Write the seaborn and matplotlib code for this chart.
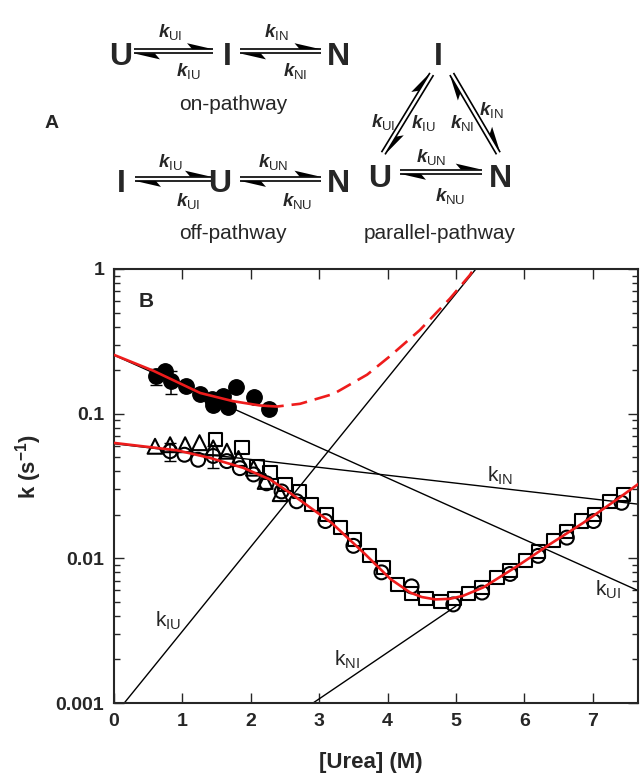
import numpy as np
import pandas as pd
import seaborn as sns
import matplotlib
matplotlib.use('Agg')
import matplotlib.pyplot as plt
from matplotlib.patches import Polygon
from matplotlib.ticker import LogLocator, NullFormatter

# ---- panel B data ----
# fast phase, filled circles
fast_x = [0.62, 0.75, 0.84, 1.05, 1.25, 1.43, 1.45, 1.59, 1.66, 1.78, 2.04, 2.26]
fast_y = [0.181, 0.196, 0.167, 0.156, 0.137, 0.126, 0.115, 0.133, 0.112, 0.154, 0.130, 0.107]
fast_err_x = [0.62, 0.84]
fast_err_y = [0.181, 0.167]
fast_err = [0.022, 0.030]

# slow phase, open triangles / circles / squares
tri_x = [0.60, 0.82, 1.04, 1.25, 1.45, 1.65, 1.82, 2.04, 2.21, 2.43]
tri_y = [0.0595, 0.061, 0.061, 0.063, 0.058, 0.055, 0.049, 0.042, 0.034, 0.028]

circ_x = [0.82, 1.03, 1.23, 1.45, 1.65, 1.84, 2.04, 2.23, 2.45, 2.67, 3.09, 3.50,
          3.91, 4.35, 4.96, 5.38, 5.79, 6.20, 6.62, 7.01, 7.42]
circ_y = [0.055, 0.052, 0.048, 0.051, 0.047, 0.042, 0.038, 0.033, 0.029, 0.0248, 0.0181, 0.0122,
          0.0080, 0.0064, 0.0048, 0.0058, 0.0078, 0.0104, 0.0139, 0.0181, 0.0242]
circ_err_x = [0.82, 1.45]
circ_err_y = [0.055, 0.051]
circ_err = [0.008, 0.009]

sq_x = [1.48, 1.87, 2.09, 2.28, 2.50, 2.71, 2.89, 3.11, 3.31, 3.52, 3.73, 3.94, 4.14, 4.35, 4.56,
        4.78, 4.98, 5.18, 5.38, 5.60, 5.79, 6.01, 6.20, 6.42, 6.62, 6.84, 7.03, 7.25, 7.45]
sq_y = [0.066, 0.058, 0.0433, 0.039, 0.0324, 0.0291, 0.0236, 0.0201, 0.0163, 0.0135, 0.0104, 0.0086,
        0.0066, 0.0057, 0.0053, 0.0050, 0.0053, 0.0057, 0.0063, 0.0074, 0.0082, 0.0096, 0.0112,
        0.0132, 0.0154, 0.0181, 0.0201, 0.0248, 0.0276]

# fitted curves (red)
fit_fast_x = [0.0, 0.575, 1.26, 1.74, 2.13, 2.25]
fit_fast_y = [0.255, 0.198, 0.139, 0.122, 0.114, 0.113]
ext_fast_x = [2.25, 2.38, 2.72, 3.21, 3.70, 4.04, 4.47, 4.91, 5.20, 5.26]
ext_fast_y = [0.113, 0.112, 0.117, 0.137, 0.186, 0.251, 0.378, 0.624, 0.905, 1.0]
fit_slow_x = [0.0, 0.92, 1.40, 1.89, 2.28, 2.57, 2.87, 3.18, 3.67, 4.04, 4.33, 4.50, 4.70,
              4.91, 5.10, 5.40, 5.89, 6.37, 6.86, 7.35, 7.69]
fit_slow_y = [0.0628, 0.0558, 0.0495, 0.0422, 0.0351, 0.0284, 0.0224, 0.0176, 0.0107, 0.0072,
              0.0058, 0.0054, 0.0052, 0.00525, 0.0055, 0.0063, 0.0088, 0.0125, 0.0176, 0.0255, 0.0333]

# microscopic rate constants (black straight lines)
rates = {
    'UI': ([0.0, 7.69], [0.254, 0.0059]),
    'IN': ([0.0, 7.69], [0.062, 0.0236]),
    'IU': ([0.15, 5.29], [0.001, 1.0]),
    'NI': ([2.91, 5.0], [0.001, 0.00468]),
}
rate_label_pos = {'IN': (5.64, 0.037), 'UI': (7.22, 0.0061), 'IU': (0.79, 0.0037), 'NI': (3.41, 0.0020)}

RED = '#ee1c1c'

sns.set_style('ticks')
plt.rcParams['font.family'] = ['Liberation Sans', 'DejaVu Sans']
plt.rcParams['mathtext.fontset'] = 'custom'
plt.rcParams['mathtext.rm'] = 'Liberation Sans'
plt.rcParams['mathtext.it'] = 'Liberation Sans:italic:bold'
plt.rcParams['mathtext.bf'] = 'Liberation Sans:bold'

fig = plt.figure(figsize=(6.4, 7.75), dpi=100)
W, H = 640, 775

# ---------------- panel B ----------------
ax = fig.add_axes([114 / W, (H - 703) / H, (638 - 114) / W, (703 - 269) / H])

for key, (xs, ys) in rates.items():
    sns.lineplot(x=xs, y=ys, ax=ax, color='black', lw=1.0, estimator=None, sort=False, zorder=2)
    lx, ly = rate_label_pos[key]
    ax.text(lx, ly, r'$\mathrm{k}_{\mathrm{%s}}$' % key, fontsize=15, ha='center', va='center')

ax.errorbar(fast_err_x, fast_err_y, yerr=fast_err, fmt='none', ecolor='black', elinewidth=1.1, capsize=4.5, zorder=3)
ax.errorbar(circ_err_x, circ_err_y, yerr=circ_err, fmt='none', ecolor='black', elinewidth=1.1, capsize=4.5, zorder=3)

sns.scatterplot(x=fast_x, y=fast_y, ax=ax, marker='o', s=125, color='black', edgecolor='black', zorder=4)
sns.scatterplot(x=tri_x, y=tri_y, ax=ax, marker='^', s=115, facecolor='none', edgecolor='black', linewidth=1.5, zorder=4)
sns.scatterplot(x=circ_x, y=circ_y, ax=ax, marker='o', s=100, facecolor='none', edgecolor='black', linewidth=1.5, zorder=4)
sns.scatterplot(x=sq_x, y=sq_y, ax=ax, marker='s', s=90, facecolor='none', edgecolor='black', linewidth=1.5, zorder=4)

sns.lineplot(x=fit_fast_x, y=fit_fast_y, ax=ax, color=RED, lw=1.9, estimator=None, sort=False, zorder=5)
sns.lineplot(x=ext_fast_x, y=ext_fast_y, ax=ax, color=RED, lw=1.9, estimator=None, sort=False, zorder=5,
             dashes=False).lines[-1].set_dashes((6, 3))
sns.lineplot(x=fit_slow_x, y=fit_slow_y, ax=ax, color=RED, lw=1.9, estimator=None, sort=False, zorder=5)

ax.set_yscale('log')
ax.set_xlim(0, 7.66)
ax.set_ylim(0.001, 1)
ax.set_xticks(range(8))
ax.set_yticks([0.001, 0.01, 0.1, 1])
ax.set_yticklabels(['0.001', '0.01', '0.1', '1'])
ax.yaxis.set_minor_locator(LogLocator(base=10, subs=np.arange(2, 10)))
ax.yaxis.set_minor_formatter(NullFormatter())
ax.tick_params(which='both', direction='in', top=True, right=True, width=1.0)
ax.tick_params(which='major', length=7, labelsize=14, pad=7)
ax.tick_params(which='minor', length=4.5)
for lab in ax.get_xticklabels() + ax.get_yticklabels():
    lab.set_fontweight('bold')
for sp in ax.spines.values():
    sp.set_linewidth(1.5)

ax.set_xlabel('[Urea] (M)', fontsize=16, fontweight='bold')
ax.xaxis.set_label_coords(0.49, -0.136)
ax.xaxis.label.set_va('center')
ax.set_ylabel(r'k (s$^{\mathbf{-1}}$)', fontsize=16, fontweight='bold')
ax.yaxis.set_label_coords(-0.164, 0.544)
ax.yaxis.label.set_va('center')
ax.text(0.062, 0.925, 'B', transform=ax.transAxes, fontsize=15, fontweight='bold', ha='center', va='center')

# ---------------- panel A (kinetic schemes) ----------------
axA = fig.add_axes([0, 1 - 250 / H, 1, 250 / H])
axA.set_xlim(0, 640)
axA.set_ylim(250, 0)
axA.axis('off')


def harpoons(p0, p1, gap=2.1, head=26, barb=6, lw=1.2):
    p0 = np.asarray(p0, float)
    p1 = np.asarray(p1, float)
    d = (p1 - p0) / np.hypot(*(p1 - p0))
    n = np.array([d[1], -d[0]])
    a0, a1 = p0 + n * gap, p1 + n * gap
    axA.plot([a0[0], a1[0]], [a0[1], a1[1]], color='black', lw=lw, solid_capstyle='butt')
    axA.add_patch(Polygon([a1, a1 - d * head + n * barb, a1 - d * head * 0.8], closed=True, fc='black', lw=0))
    b0, b1 = p0 - n * gap, p1 - n * gap
    axA.plot([b0[0], b1[0]], [b0[1], b1[1]], color='black', lw=lw, solid_capstyle='butt')
    axA.add_patch(Polygon([b0, b0 + d * head - n * barb, b0 + d * head * 0.8], closed=True, fc='black', lw=0))


def species(x, y, s):
    axA.text(x, y, s, fontsize=23, fontweight='bold', ha='center', va='baseline')


def rate(x, y, sub):
    axA.text(x, y, r'$k_{\mathrm{%s}}$' % sub, fontsize=13.5, ha='center', va='baseline')


# on-pathway
species(120.7, 65, 'U'); species(227.7, 65, 'I'); species(338.3, 65, 'N')
harpoons((134, 51.3), (213, 51.3)); harpoons((240, 51.3), (320.5, 51.3))
rate(170, 37, 'UI'); rate(188, 76, 'IU'); rate(276.7, 37, 'IN'); rate(295, 76, 'NI')
axA.text(233, 110, 'on-pathway', fontsize=15, ha='center', va='baseline')

# off-pathway
species(121.7, 191.7, 'I'); species(220, 191.7, 'U'); species(338, 191.7, 'N')
harpoons((135, 178.8), (211, 178.8)); harpoons((240, 178.8), (320.5, 178.8))
rate(170, 167, 'IU'); rate(188, 206, 'UI'); rate(273, 167, 'UN'); rate(296.7, 206, 'NU')
axA.text(233, 239, 'off-pathway', fontsize=15, ha='center', va='baseline')

# parallel-pathway
species(438.3, 65, 'I'); species(380, 187, 'U'); species(500, 187, 'N')
harpoons((383.3, 153.3), (431.7, 74)); harpoons((451.7, 74), (498.3, 153.3)); harpoons((400, 171.7), (481.7, 171.7))
rate(383, 127, 'UI'); rate(423, 128, 'IU'); rate(461.7, 128, 'NI'); rate(491.7, 115, 'IN')
rate(431.7, 162, 'UN'); rate(450, 201, 'NU')
axA.text(440, 239, 'parallel-pathway', fontsize=15, ha='center', va='baseline')

axA.text(52, 128, 'A', fontsize=14, fontweight='bold', ha='center', va='baseline')

fig.savefig('out.png', dpi=100)
